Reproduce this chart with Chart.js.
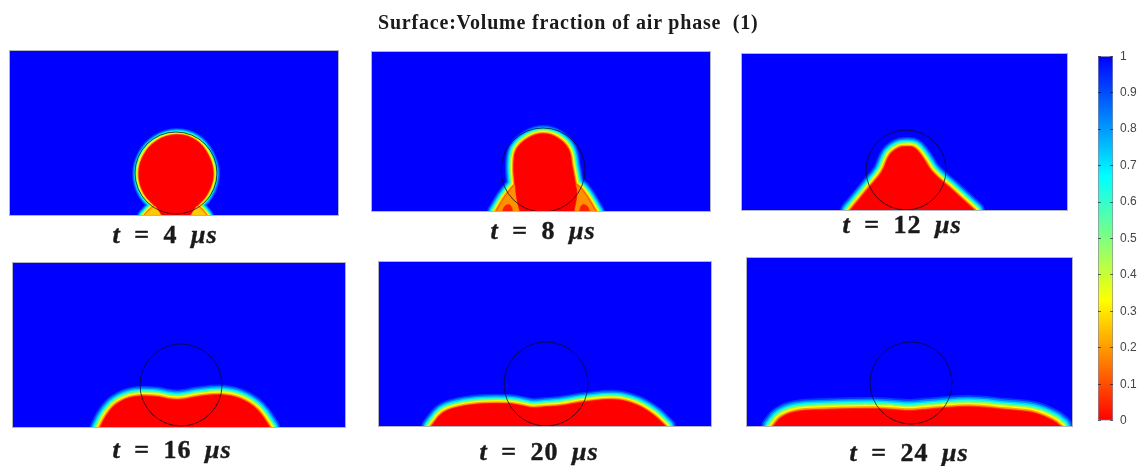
<!DOCTYPE html>
<html>
<head>
<meta charset="utf-8">
<script src="https://cdn.jsdelivr.net/npm/chart.js@4"></script>
<style>
  html, body { margin: 0; padding: 0; background: #fff; overflow: hidden; }
  #page { position: relative; width: 1139px; height: 466px; }
  #page canvas { position: absolute; }
  .panel { filter: blur(0.6px); outline: 1px solid #b4b4c0; }
  #colorbar { filter: blur(0.35px); }
  #title {
    position: absolute; left: 378px; top: 11px; white-space: pre; color: #1a1a1a; letter-spacing: 0.8px;
    font: bold 20px "Liberation Serif", serif; filter: blur(0.3px);
  }
  .time {
    position: absolute; transform: translateX(-50%); white-space: pre; color: #1a1a1a;
    word-spacing: 6px; letter-spacing: 1px; -webkit-text-stroke: 0.4px #1a1a1a;
    font: bold 26px "Liberation Serif", serif; filter: blur(0.4px);
  }
  .time i { font-style: italic; }
</style>
</head>
<body>
<div id="page">
  <div id="title">Surface:Volume fraction of air phase  (1)</div>
  <canvas id="colorbar" width="41" height="393" style="left:1098px;top:42px"></canvas>
</div>
<script>
// times of the six frames, microseconds
const times = [4, 8, 12, 16, 20, 24];

// edge of the red region in each frame, [x, height above the wall]
const front4 = [[152,-1],[147,7],[134,22],[129,41],[134,60],[147,74],[166,80],[185,75],[198,60],[203,40],[197,21],[185,7],[180,-1]];
const front8 = [[148,-1],[145,11],[143,28],[142,47],[145,62],[157,73],[171,77],[185,73],[196,62],[200,44],[203,28],[205,18],[202,-1]];
const front12 = [[108,-1],[127,22],[140,38],[148,55],[157,62],[163,63],[172,62],[180,53],[190,38],[210,20],[233,-1]];
const front16 = [[87,-1],[94,12],[104,23],[121,30],[144,30],[154,28],[164,27],[174,28],[184,30],[207,32],[227,28],[244,17],[257,-1]];
const front20 = [[52,-1],[64,13],[81,19],[104,22],[131,22],[143,20],[154,18],[167,19],[181,20],[207,24],[237,26],[257,21],[274,11],[287,-1]];
const front24 = [[26,-1],[34,8],[49,14],[79,16],[126,17],[145,16],[163,15],[176,16],[189,17],[222,19],[259,16],[286,13],[306,5],[314,-1]];

// spreading film at the foot of the drop, first two frames only
const skirt4 = [[134,-1],[142,7],[150,10],[182,10],[190,7],[197,-1]];
const skirt8 = [[124,-1],[136,18],[148,28],[198,28],[209,22],[224,-1]];

// red spots inside the film at t = 8
const spotLeft8 = [[130,-1],[133,5],[138,6],[141,-1]];
const spotRight8 = [[207,-1],[210,6],[215,5],[218,-1]];

// initial drop outline: centre x, centre y
const dropCentre = [[166,42],[171,41],[164,40],[168,42],[167,42],[164,43]];

// colour bar
const barTicks = [0, 0.1, 0.2, 0.3, 0.4, 0.5, 0.6, 0.7, 0.8, 0.9, 1];
const barStops = [0, 0.33, 0.5, 0.67, 1];
const barColors = ['#ff0000', '#ffff00', '#80ff80', '#00ffff', '#0000ff'];

const fronts = [front4, front8, front12, front16, front20, front24];
const skirts = [skirt4, skirt8, null, null, null, null];
const spots = [[], [spotLeft8, spotRight8], [], [], [], []];
const skirtColors = ['#ffc800', '#ff9000'];

// left, top, width, height of each frame on the page
const boxes = [[10,51,328,164],[372,52,338,159],[742,54,325,156],[13,263,332,164],[379,262,332,164],[747,258,325,168]];
const labelPos = [[165,220],[543,216],[902,210],[172,435],[539,437],[909,438]];
const dropRadius = [41, 42, 40, 41, 42, 41];
const reach = [7, 9, 10, 10.5, 10, 12];
// transition from blue to red, outside to inside: share of reach, colour
const bandShare = [1, 0.86, 0.72, 0.6, 0.48, 0.36, 0.22, 0.1];
const bandColors = ['#0038ff', '#0088ff', '#00d8ff', '#20ffd0', '#90ff60', '#ffff00', '#ffa000', '#ff3800'];

function toPoints(list) {
  return list.map(p => ({ x: p[0], y: p[1] }));
}

function edgeLine(list, color, width, fill) {
  return {
    data: toPoints(list),
    showLine: true,
    tension: 0.4,
    borderColor: color,
    borderWidth: width,
    borderJoinStyle: 'round',
    borderCapStyle: 'round',
    backgroundColor: color,
    fill: fill ? 'shape' : false,
    pointRadius: 0,
    clip: 0
  };
}

function framePanel(i) {
  const box = boxes[i];
  const canvas = document.createElement('canvas');
  canvas.className = 'panel';
  canvas.width = box[2];
  canvas.height = box[3];
  canvas.style.left = box[0] + 'px';
  canvas.style.top = box[1] + 'px';
  canvas.style.background = '#0000ff';
  document.getElementById('page').appendChild(canvas);

  // first dataset ends up on top
  const datasets = [];
  datasets.push({
    data: [{ x: dropCentre[i][0], y: dropCentre[i][1] }],
    pointRadius: dropRadius[i],
    pointBorderColor: 'rgba(10,10,40,0.75)',
    pointBorderWidth: 1,
    pointBackgroundColor: 'rgba(0,0,0,0)',
    clip: 0
  });
  datasets.push(edgeLine(fronts[i], '#ff0000', 0.5, true));
  spots[i].forEach(s => datasets.push(edgeLine(s, '#ff2000', 0.5, true)));
  if (skirts[i]) datasets.push(edgeLine(skirts[i], skirtColors[i], 0.5, true));
  for (let b = bandShare.length - 1; b >= 0; b--) {
    const w = bandShare[b] * reach[i] * 2;
    datasets.push(edgeLine(fronts[i], bandColors[b], w, false));
    if (skirts[i]) datasets.push(edgeLine(skirts[i], bandColors[b], w, false));
  }

  new Chart(canvas, {
    type: 'scatter',
    data: { datasets: datasets },
    options: {
      responsive: false,
      animation: false,
      layout: { padding: 0, autoPadding: false },
      plugins: { legend: { display: false }, tooltip: { enabled: false } },
      elements: { line: { capBezierPoints: false } },
      scales: {
        x: { type: 'linear', display: false, min: 0, max: box[2] },
        y: { type: 'linear', display: false, min: 0, max: box[3] }
      }
    }
  });

  const label = document.createElement('div');
  label.className = 'time';
  label.style.left = labelPos[i][0] + 'px';
  label.style.top = labelPos[i][1] + 'px';
  label.innerHTML = '<i>t</i> = ' + times[i] + ' <i>μs</i>';
  document.getElementById('page').appendChild(label);
}

times.forEach((t, i) => framePanel(i));

new Chart(document.getElementById('colorbar'), {
  type: 'bar',
  data: {
    labels: [''],
    datasets: [{
      data: [[0, 1]],
      barPercentage: 1,
      categoryPercentage: 1,
      borderColor: '#8a8a9a',
      borderWidth: 1,
      borderSkipped: false,
      backgroundColor: ctx => {
        const area = ctx.chart.chartArea;
        if (!area) return barColors[0];
        const g = ctx.chart.ctx.createLinearGradient(0, area.bottom, 0, area.top);
        barStops.forEach((s, i) => g.addColorStop(s, barColors[i]));
        return g;
      }
    }]
  },
  options: {
    responsive: false,
    animation: false,
    layout: { padding: { top: 10, bottom: 10 }, autoPadding: false },
    plugins: { legend: { display: false }, tooltip: { enabled: false } },
    scales: {
      x: { display: false },
      y: {
        position: 'right',
        min: 0,
        max: 1,
        afterFit: s => { s.width = 26; },
        afterBuildTicks: s => { s.ticks = barTicks.map(v => ({ value: v })); },
        border: { display: false, dash: [3, 9] },
        grid: { z: 1, drawTicks: false, color: 'rgba(0,0,40,0.55)' },
        ticks: {
          padding: 7,
          color: '#444',
          font: { family: 'Liberation Sans', size: 12 },
          callback: v => String(v)
        }
      }
    }
  }
});
</script>
</body>
</html>
